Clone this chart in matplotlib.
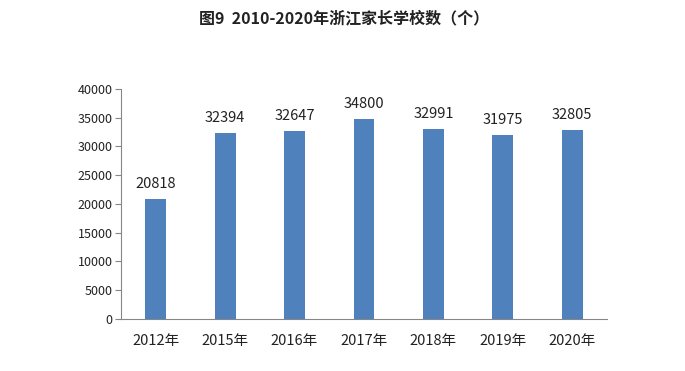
import matplotlib.pyplot as plt

plt.rcParams['font.family'] = ['Noto Sans CJK SC', 'DejaVu Sans']

years = ['2012年', '2015年', '2016年', '2017年', '2018年', '2019年', '2020年']
schools = [20818, 32394, 32647, 34800, 32991, 31975, 32805]
y_ticks = [0, 5000, 10000, 15000, 20000, 25000, 30000, 35000, 40000]

fig = plt.figure(figsize=(6.85, 3.71), dpi=100)
ax = fig.add_axes([0.1766, 0.1402, 0.7094, 0.6199])

x = range(len(years))
bars = ax.bar(x, schools, width=0.3, color='#4F81BD')

# value labels above bars
for xi, v in zip(x, schools):
    ax.text(xi, v + 1400, str(v), ha='center', va='bottom', fontsize=10.5,
            color='#222222', fontweight='light')

ax.set_xlim(-0.5, len(years) - 0.5)
ax.set_ylim(0, 40000)
ax.set_yticks(y_ticks)
ax.set_yticklabels([str(t) for t in y_ticks], fontsize=9)
ax.set_xticks(list(x))
ax.set_xticklabels(years, fontsize=10.5, fontweight='light')

ax.spines['top'].set_visible(False)
ax.spines['right'].set_visible(False)
ax.spines['left'].set_color('#868686')
ax.spines['bottom'].set_color('#868686')
ax.tick_params(axis='y', colors='#868686', labelcolor='#222222', length=4, pad=2)
ax.tick_params(axis='x', length=0, pad=11, labelcolor='#222222')

fig.text(0.503, 0.951, '图9  2010-2020年浙江家长学校数（个）', ha='center', va='center',
         fontsize=11.5, fontweight='bold', color='#222222')

fig.savefig('out.png', dpi=100)
